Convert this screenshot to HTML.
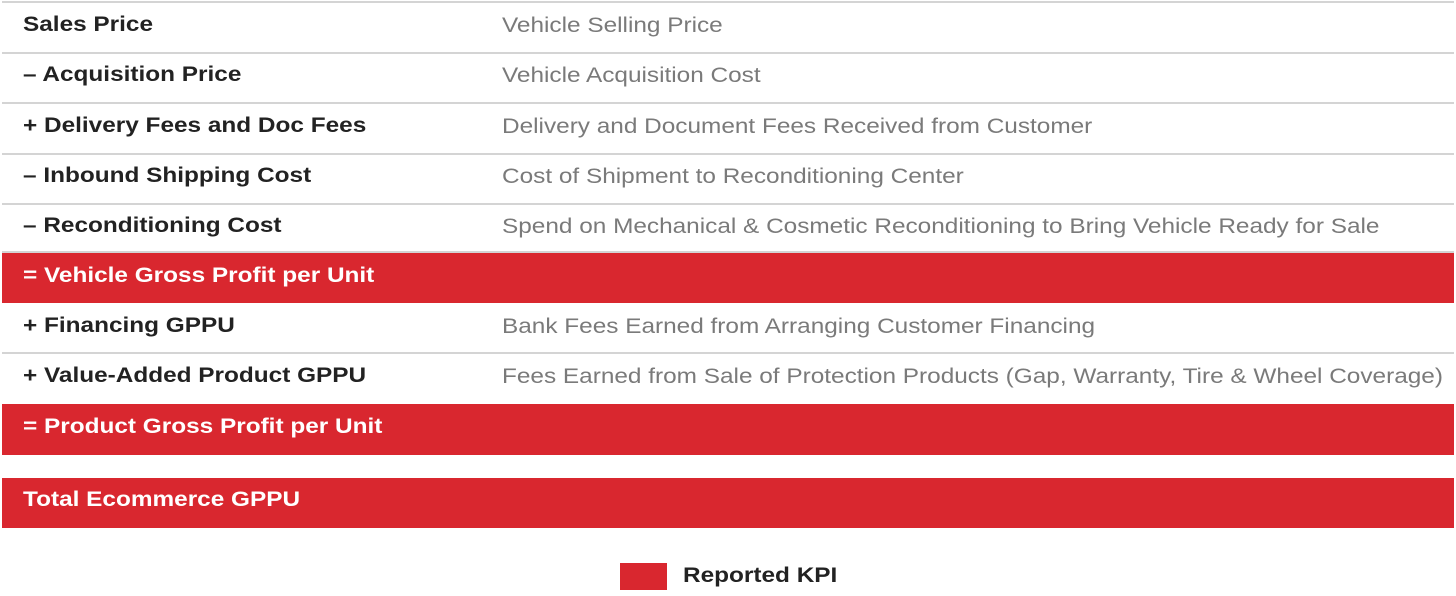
<!DOCTYPE html>
<html><head><meta charset="utf-8"><style>
body{margin:0;width:1456px;height:596px;background:#fff;position:relative;overflow:hidden;font-family:"Liberation Sans",Arial,sans-serif}
.row{position:absolute;left:2px;width:1452px;border-bottom:2px solid #d4d4d4;box-sizing:border-box}
.red{background:#d9272f;border-bottom:none}
.lab,.desc,.leg{position:absolute;font-size:21px;white-space:nowrap;transform:scaleX(1.16);transform-origin:0 50%}
.lab{left:21px;font-weight:bold;color:#222}
.red .lab{color:#fff}
.desc{left:500px;color:#7a7a7a}
</style></head><body>
<div style="position:absolute;left:2px;top:1px;width:1452px;height:2px;background:#d4d4d4"></div>
<div class="row" style="top:3px;height:51px"><span class="lab" style="top:10px">Sales Price</span><span class="desc" style="top:11px">Vehicle Selling Price</span></div>
<div class="row" style="top:54px;height:50px"><span class="lab" style="top:9px">– Acquisition Price</span><span class="desc" style="top:10px">Vehicle Acquisition Cost</span></div>
<div class="row" style="top:104px;height:51px"><span class="lab" style="top:10px">+ Delivery Fees and Doc Fees</span><span class="desc" style="top:11px">Delivery and Document Fees Received from Customer</span></div>
<div class="row" style="top:155px;height:50px"><span class="lab" style="top:9px">– Inbound Shipping Cost</span><span class="desc" style="top:10px">Cost of Shipment to Reconditioning Center</span></div>
<div class="row" style="top:205px;height:48px"><span class="lab" style="top:9px">– Reconditioning Cost</span><span class="desc" style="top:10px">Spend on Mechanical &amp; Cosmetic Reconditioning to Bring Vehicle Ready for Sale</span></div>
<div class="row red" style="top:253px;height:50px"><span class="lab" style="top:11px">= Vehicle Gross Profit per Unit</span></div>
<div class="row" style="top:303px;height:51px"><span class="lab" style="top:11px">+ Financing GPPU</span><span class="desc" style="top:12px">Bank Fees Earned from Arranging Customer Financing</span></div>
<div class="row" style="top:354px;height:50px;border-bottom:none"><span class="lab" style="top:10px">+ Value-Added Product GPPU</span><span class="desc" style="top:11px">Fees Earned from Sale of Protection Products (Gap, Warranty, Tire &amp; Wheel Coverage)</span></div>
<div class="row red" style="top:404px;height:51px"><span class="lab" style="top:11px">= Product Gross Profit per Unit</span></div>
<div class="row red" style="top:478px;height:50px"><span class="lab" style="top:10px">Total Ecommerce GPPU</span></div>
<div style="position:absolute;left:620px;top:563px;width:47px;height:27px;background:#d9272f"></div>
<div class="leg" style="left:683px;top:564px;font-weight:bold;color:#222">Reported KPI</div>
</body></html>
